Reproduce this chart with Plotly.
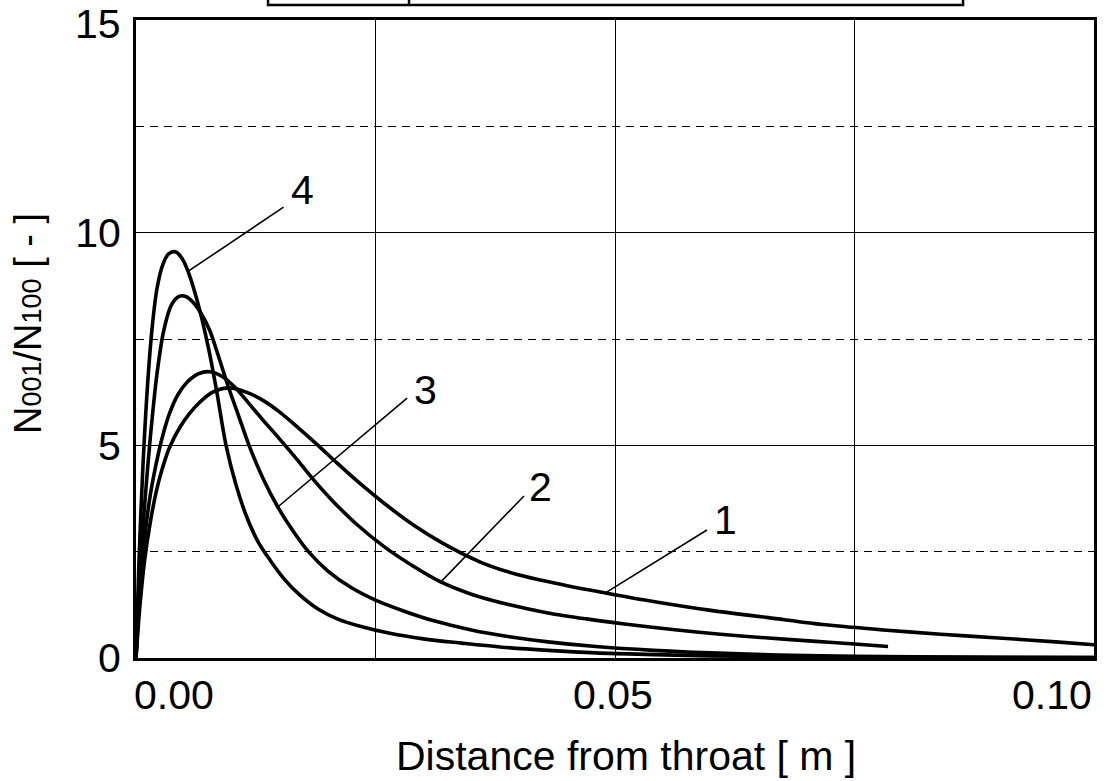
import plotly.graph_objects as go

# ---- data ----
x1 = [0, .0004, .0009, .0015, .0021, .0027, .0035, .0046, .0056, .0066, .0080, .0098, .0115, .0133,
      .0150, .0170, .0190, .0210, .0235, .0260, .0290, .0320, .0360, .0400, .0450, .0490, .0540,
      .0600, .0660, .0720, .0780, .0840, .0900, .0960, .1000]
y1 = [0, 1.2, 2.3, 3.2, 3.9, 4.42, 4.95, 5.43, 5.75, 6.0, 6.25, 6.35, 6.25, 6.05,
      5.78, 5.4, 5.0, 4.58, 4.08, 3.62, 3.12, 2.7, 2.25, 1.95, 1.7, 1.53, 1.33,
      1.12, 0.95, 0.78, 0.66, 0.56, 0.47, 0.38, 0.31]

x2 = [0, .0004, .0009, .0014, .0020, .0027, .0035, .0044, .0054, .0065, .0077, .0090, .0104, .0118,
      .0133, .0148, .0165, .0185, .0205, .0230, .0260, .0290, .0317, .0350, .0390, .0430, .0470,
      .0510, .0560, .0610, .0660, .0710, .0750, .0785]
y2 = [0, 1.5, 2.8, 3.7, 4.45, 5.15, 5.75, 6.2, 6.5, 6.68, 6.73, 6.62, 6.35, 5.98,
      5.58, 5.2, 4.75, 4.2, 3.7, 3.15, 2.6, 2.15, 1.8, 1.5, 1.25, 1.06, 0.92,
      0.8, 0.67, 0.56, 0.47, 0.39, 0.33, 0.27]

x3 = [0, .0004, .0009, .0015, .0022, .0029, .0037, .0045, .0052, .0060, .0068, .0077, .0086, .0096,
      .0107, .0118, .0132, .0148, .0165, .0180, .0200, .0225, .0250, .0280, .0310, .0350, .0390,
      .0430, .0480, .0540, .0600, .0670, .0750, .0850, .1000]
y3 = [0, 2.0, 3.6, 5.2, 6.7, 7.7, 8.3, 8.5, 8.5, 8.35, 8.1, 7.7, 7.1, 6.4,
      5.7, 5.0, 4.25, 3.55, 2.95, 2.5, 2.05, 1.65, 1.36, 1.1, 0.88, 0.66, 0.5,
      0.38, 0.27, 0.18, 0.12, 0.07, 0.04, 0.02, 0.01]

x4 = [0, .0003, .0007, .0012, .0017, .0022, .0028, .0034, .0041, .0048, .0055, .0062, .0069, .0076,
      .0084, .0094, .0104, .0115, .0127, .0140, .0155, .0170, .0190, .0210, .0235, .0265, .0300,
      .0340, .0380, .0430, .0480, .0540, .0600, .0680, .0760, .0850, .0950, .1000]
y4 = [0, 2.2, 4.4, 6.4, 7.8, 8.7, 9.25, 9.5, 9.55, 9.4, 9.05, 8.55, 7.95, 7.25,
      6.3, 5.0, 4.1, 3.35, 2.75, 2.3, 1.85, 1.5, 1.15, 0.92, 0.74, 0.58, 0.45,
      0.35, 0.26, 0.18, 0.12, 0.08, 0.05, 0.03, 0.02, 0.015, 0.01, 0.01]

series_x = [x1, x2, x3, x4]
series_y = [y1, y2, y3, y4]
curve_labels = ["1", "2", "3", "4"]

# label text position and leader-line (from, to) in data units
label_text_xy = [(0.0615, 3.24), (0.0422, 4.02), (0.0302, 6.30), (0.0174, 11.0)]
leader_from = [(0.0596, 3.01), (0.0405, 3.81), (0.0283, 6.11), (0.0154, 10.6)]
leader_to = [(0.0490, 1.53), (0.0317, 1.76), (0.0148, 3.55), (0.0055, 9.10)]

x_tick_vals = [0.0, 0.05, 0.10]
x_tick_text = ["0.00", "0.05", "0.10"]
x_grid_vals = [0.025, 0.05, 0.075]
y_tick_vals = [0, 5, 10, 15]
y_tick_text = ["0", "5", "10", "15"]
y_dash_vals = [2.5, 7.5, 12.5]

FONT = "Liberation Sans, Arial, Helvetica, sans-serif"
FS = 41

fig = go.Figure()
for xs, ys, name in zip(series_x, series_y, curve_labels):
    fig.add_trace(go.Scatter(x=xs, y=ys, mode="lines", name=name,
                             line=dict(color="black", width=3.6, shape="spline", smoothing=0.9),
                             showlegend=False, hoverinfo="skip"))

annotations = []
shapes = []
for (tx, ty), (fx, fy), (ex, ey), lab in zip(label_text_xy, leader_from, leader_to, curve_labels):
    annotations.append(dict(x=tx, y=ty, xref="x", yref="y", text=lab, showarrow=False,
                            font=dict(family=FONT, size=FS, color="black")))
    shapes.append(dict(type="line", xref="x", yref="y", x0=fx, y0=fy, x1=ex, y1=ey,
                       line=dict(color="black", width=1.6)))

# x tick labels (placed inside the axis span, as in the reference)
anchors = ["left", "center", "right"]
shifts = [-4, -2, 0]
for v, t, a, s in zip(x_tick_vals, x_tick_text, anchors, shifts):
    annotations.append(dict(x=v, y=0, xref="x", yref="paper", yanchor="middle", xanchor=a,
                            yshift=-37, xshift=s, text=t, showarrow=False,
                            font=dict(family=FONT, size=FS, color="black")))

# top y tick label drawn slightly lower so it stays inside the page
annotations.append(dict(x=0, y=y_tick_vals[-1], xref="paper", yref="y", xanchor="right",
                        yanchor="middle", xshift=-13, yshift=-4, text=y_tick_text[-1],
                        showarrow=False, font=dict(family=FONT, size=FS, color="black")))
y_axis_text = y_tick_text[:-1] + [""]

# axis titles
annotations.append(dict(x=0.5, y=0, xref="paper", yref="paper", xanchor="center", yanchor="middle",
                        xshift=11, yshift=-98, text="Distance from throat [ m ]", showarrow=False,
                        font=dict(family=FONT, size=41, color="black")))
annotations.append(dict(x=0, y=0.5235, xref="paper", yref="paper", xanchor="center", yanchor="middle",
                        xshift=-108, textangle=-90,
                        text='N<span style="font-size:27px">001</span>/N<span style="font-size:27px">100</span> [ - ]',
                        showarrow=False, font=dict(family=FONT, size=38, color="black")))

# partially visible table box at the top
shapes.append(dict(type="rect", xref="paper", yref="paper", x0=0.1378, x1=0.8633, y0=1.0235, y1=1.08,
                   line=dict(color="black", width=2.5)))
shapes.append(dict(type="line", xref="paper", yref="paper", x0=0.285, x1=0.285, y0=1.0235, y1=1.08,
                   line=dict(color="black", width=2.5)))

fig.update_layout(
    width=1108, height=781,
    margin=dict(l=136, r=14, t=20, b=123, autoexpand=False),
    paper_bgcolor="white", plot_bgcolor="white",
    font=dict(family=FONT, size=FS, color="black"),
    annotations=annotations, shapes=shapes,
    xaxis=dict(range=[0, 0.1], tickvals=x_grid_vals, showticklabels=False, ticks="",
               automargin=False,
               showgrid=True, gridcolor="black", gridwidth=1.2, zeroline=False,
               showline=True, linecolor="black", linewidth=3, mirror=True),
    yaxis=dict(range=[0, 15], tickvals=y_tick_vals, ticktext=y_axis_text, ticks="",
               automargin=False,
               ticklabelstandoff=4, ticklabeloverflow="allow",
               showgrid=True, gridcolor="black", gridwidth=1.2, zeroline=False,
               showline=True, linecolor="black", linewidth=3, mirror=True,
               tickfont=dict(family=FONT, size=FS, color="black"),
               minor=dict(tickvals=y_dash_vals, showgrid=True, gridcolor="black",
                          gridwidth=1, griddash="8px,6px", ticks="")),
)

fig.write_html("out.html")
